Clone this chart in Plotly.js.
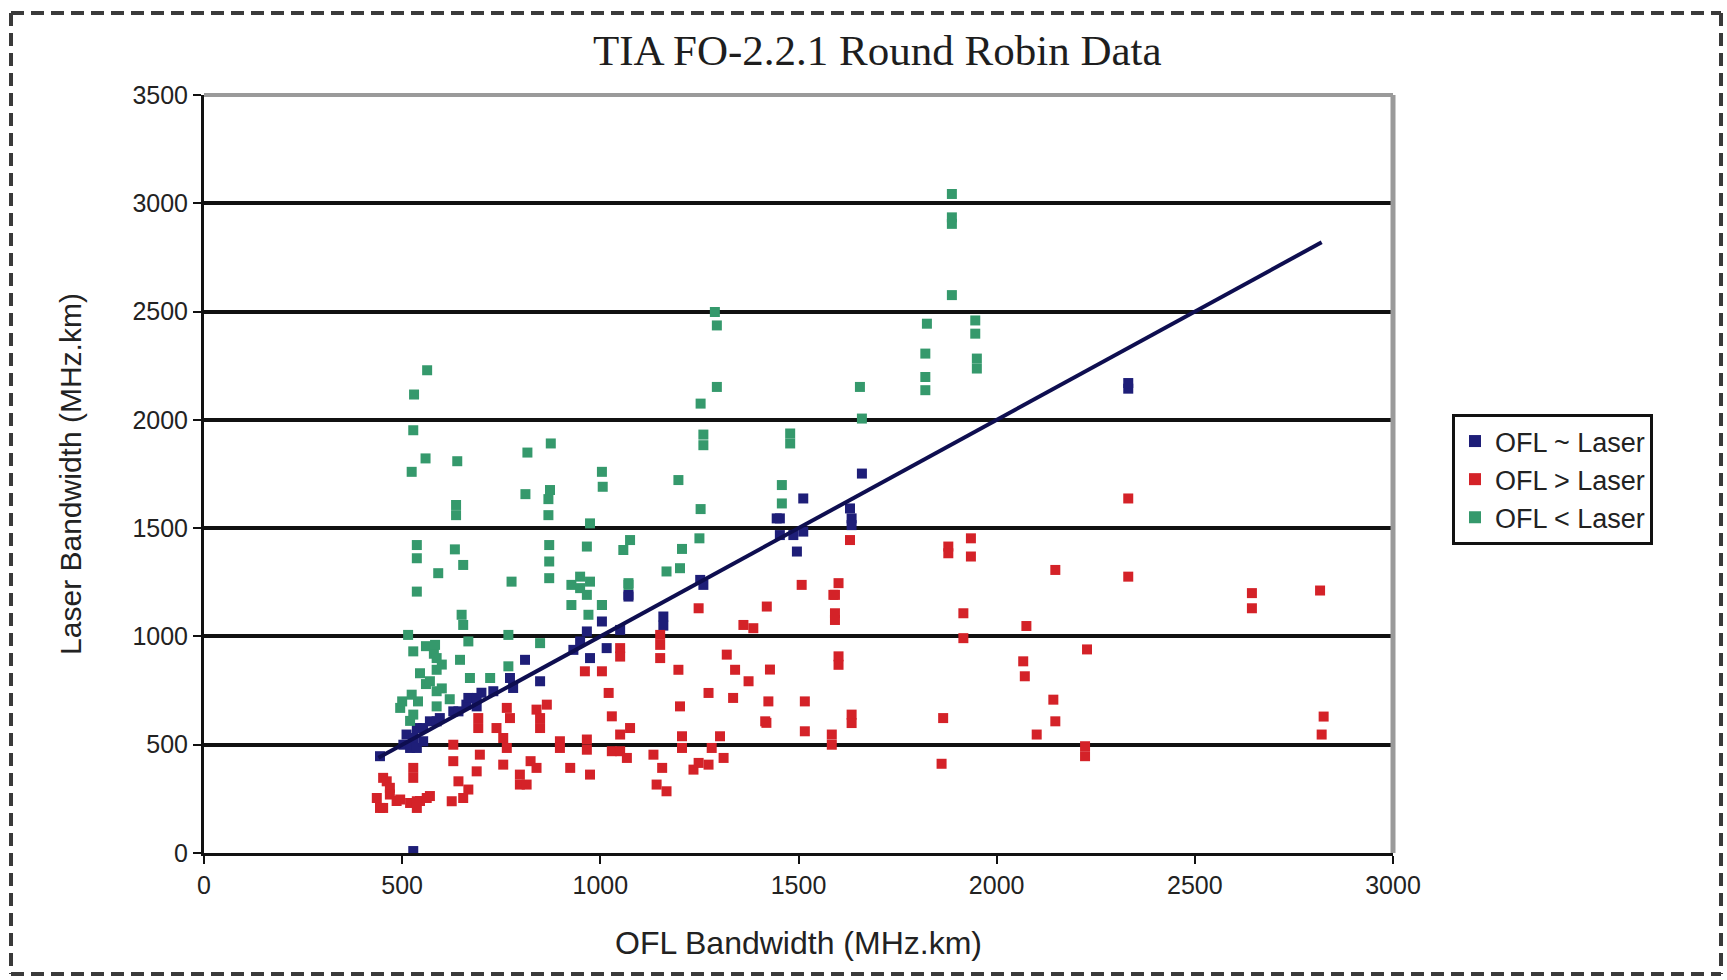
<!DOCTYPE html>
<html>
<head>
<meta charset="utf-8">
<script src="https://cdn.plot.ly/plotly-3.0.1.min.js"></script>
<style>
  html, body { margin: 0; padding: 0; background: #ffffff; }
  #chart { width: 1727px; height: 980px; }
</style>
</head>
<body>
<div id="chart"></div>
<script>
// ---- data ----
const seriesNames = ["OFL ~ Laser", "OFL > Laser", "OFL < Laser"];

// OFL ~ Laser (blue)
const approxX = [444, 503, 511, 520, 528, 537, 537, 553, 553, 570, 587, 595, 629, 642, 662, 667, 688, 688, 700, 730, 772, 780, 810, 848, 932, 949, 966, 974, 1004, 1016, 1050, 1071, 1071, 1159, 1159, 1252, 1260, 1445, 1453, 1453, 1487, 1496, 1512, 1512, 1630, 1634, 1634, 1660, 2332, 2332, 528];
const approxY = [447, 500, 547, 485, 531, 485, 577, 577, 516, 608, 608, 623, 654, 654, 685, 716, 677, 716, 740, 747, 808, 762, 892, 793, 938, 977, 1023, 900, 1069, 946, 1030, 1192, 1184, 1092, 1050, 1261, 1238, 1545, 1545, 1468, 1468, 1392, 1637, 1484, 1591, 1545, 1514, 1752, 2144, 2170, 9];

// OFL > Laser (red)
const greaterX = [436, 444, 452, 452, 461, 469, 469, 486, 495, 520, 528, 528, 537, 537, 545, 562, 570,
  625, 629, 629, 642, 654, 667, 688, 692, 692, 696, 738, 755, 755, 764, 764, 772, 797, 797, 814, 824, 839, 839, 848, 848, 865,
  898, 898, 924, 961, 966, 966, 974, 1004, 1021, 1029, 1029, 1050, 1050, 1050, 1050, 1067, 1075,
  1134, 1142, 1151, 1151, 1151, 1156, 1167, 1197, 1201, 1206, 1206, 1235, 1248, 1248, 1273, 1273, 1281, 1302, 1311, 1319, 1335, 1340, 1361, 1374, 1386,
  1416, 1419, 1420, 1424, 1428, 1508, 1516, 1516, 1584, 1584, 1588, 1592, 1592, 1592, 1601, 1601, 1601, 1630, 1634, 1634,
  1861, 1865, 1878, 1878, 1916, 1916, 1935, 1935, 2067, 2071, 2075, 2101, 2143, 2148, 2148, 2223, 2223, 2228, 2332, 2332, 2644, 2644, 2816, 2820, 2825];
const greaterY = [254, 208, 347, 208, 331, 301, 270, 240, 247, 231, 393, 347, 239, 208, 240, 254, 263,
  239, 500, 424, 331, 254, 293, 377, 623, 577, 454, 577, 531, 408, 670, 485, 623, 362, 316, 316, 424, 662, 393, 623, 577, 685,
  516, 485, 393, 839, 524, 477, 362, 839, 739, 631, 470, 946, 907, 547, 470, 439, 577,
  454, 316, 1007, 961, 900, 393, 285, 846, 677, 539, 485, 385, 416, 1130, 739, 408, 485, 539, 439, 916, 716, 846, 1053, 793, 1038,
  608, 601, 1138, 700, 847, 1238, 700, 562, 547, 500, 1192, 1192, 1107, 1076, 1246, 908, 869, 1445, 639, 600,
  412, 623, 1415, 1384, 1107, 992, 1453, 1369, 885, 816, 1048, 547, 708, 608, 1307, 493, 447, 940, 1637, 1276, 1200, 1130, 1212, 547, 630];

// OFL < Laser (green)
const lessX = [495, 500, 515, 520, 524, 524, 528, 528, 528, 530, 537, 537, 537, 540, 545, 559, 560, 560, 563, 570, 580, 583, 587, 587, 587, 587, 591, 600, 600, 620,
  633, 636, 636, 639, 646, 650, 654, 654, 667, 671, 722, 768, 768, 776, 811, 816, 848, 869, 869, 871, 871, 871, 873, 875,
  927, 927, 949, 949, 966, 966, 970, 974, 974, 1004, 1004, 1004, 1006, 1058, 1071, 1071, 1075, 1167, 1197, 1201, 1206, 1250, 1253, 1253, 1260, 1260, 1289, 1294, 1294,
  1458, 1458, 1479, 1479, 1655, 1660, 1820, 1820, 1820, 1824, 1887, 1887, 1887, 1887, 1946, 1946, 1950, 1950];
const lessY = [670, 700, 1007, 610, 1760, 731, 1952, 931, 639, 2117, 1422, 1361, 1207, 700, 830, 1822, 955, 780, 2229, 793, 920, 961, 900, 846, 747, 677, 1292, 870, 760, 710,
  1402, 1607, 1560, 1809, 892, 1100, 1330, 1053, 977, 808, 808, 1007, 862, 1253, 1657, 1849, 969, 1634, 1560, 1422, 1346, 1269, 1676, 1891,
  1238, 1145, 1276, 1223, 1415, 1192, 1100, 1522, 1253, 1760, 1145, 1145, 1691, 1399, 1246, 1238, 1445, 1300, 1722, 1315, 1404, 1453, 2075, 1588, 1932, 1883, 2498, 2436, 2152,
  1699, 1614, 1937, 1891, 2152, 2006, 2306, 2198, 2137, 2444, 3043, 2935, 2905, 2576, 2459, 2398, 2283, 2237];

// equality trend line (y = x)
const lineX = [440, 2820];
const lineY = [440, 2820];

const xTicks = [0, 500, 1000, 1500, 2000, 2500, 3000];
const yTicks = [0, 500, 1000, 1500, 2000, 2500, 3000, 3500];

// ---- chart ----
const markerBase = { size: 10, line: { width: 0 } };
const traces = [
  { type: 'scatter', mode: 'markers', name: seriesNames[0], x: approxX, y: approxY,
    marker: Object.assign({}, markerBase, { color: '#1e1e78', symbol: 'square' }) },
  { type: 'scatter', mode: 'markers', name: seriesNames[1], x: greaterX, y: greaterY,
    marker: Object.assign({}, markerBase, { color: '#d42228', symbol: 'square' }) },
  { type: 'scatter', mode: 'markers', name: seriesNames[2], x: lessX, y: lessY,
    marker: Object.assign({}, markerBase, { color: '#35996c', symbol: 'square' }) },
  { type: 'scatter', mode: 'lines', name: 'trend', x: lineX, y: lineY, showlegend: false,
    line: { color: '#0e0e50', width: 4 } }
];

const dash = { color: '#3a3a3a', width: 4, dash: '13px,7px' };
const layout = {
  width: 1727, height: 980,
  paper_bgcolor: '#ffffff', plot_bgcolor: '#ffffff',
  margin: { l: 204, r: 334, t: 95, b: 127 },
  showlegend: true,
  title: { text: 'TIA FO-2.2.1 Round Robin Data', x: 0.508, xref: 'container', xanchor: 'center',
    y: 1 - 50 / 980, yref: 'container', yanchor: 'middle',
    font: { family: 'Liberation Serif, serif', size: 43, color: '#1e1e1e' } },
  font: { family: 'Liberation Sans, Arial, sans-serif', color: '#222' },
  xaxis: {
    range: [0, 3000], tickvals: xTicks, ticktext: xTicks.map(String),
    showgrid: false, zeroline: false,
    showline: true, linecolor: '#111', linewidth: 3,
    ticks: 'outside', ticklen: 8, tickwidth: 2, tickcolor: '#111',
    tickfont: { size: 25, color: '#222' },
    title: { text: 'OFL Bandwidth (MHz.km)', font: { size: 32, color: '#222' }, standoff: 34 }
  },
  yaxis: {
    range: [0, 3500], tickvals: yTicks, ticktext: yTicks.map(String),
    showgrid: true, gridcolor: '#111', gridwidth: 4, zeroline: false,
    showline: true, linecolor: '#111', linewidth: 3,
    ticks: 'outside', ticklen: 8, tickwidth: 2, tickcolor: '#111',
    tickfont: { size: 25, color: '#222' },
    title: { text: 'Laser Bandwidth (MHz.km)', font: { size: 30, color: '#222' }, standoff: 42 }
  },
  legend: {
    x: (1452 - 204) / 1189, xanchor: 'left', y: (853 - 414) / 758, yanchor: 'top',
    bgcolor: '#ffffff', bordercolor: '#111', borderwidth: 3,
    font: { size: 27, color: '#222' }, itemsizing: 'constant'
  },
  shapes: [
    // plot area grey border (top and right)
    { type: 'line', xref: 'paper', yref: 'paper', x0: 0, x1: 1, y0: 1, y1: 1, line: { color: '#9a9a9a', width: 4 }, layer: 'above' },
    { type: 'line', xref: 'paper', yref: 'paper', x0: 1, x1: 1, y0: 0, y1: 1, line: { color: '#9a9a9a', width: 5 }, layer: 'above' },
    // outer dashed frame
    { type: 'line', xref: 'paper', yref: 'paper', x0: (11 - 204) / 1189, x1: (1721 - 204) / 1189, y0: (853 - 13) / 758, y1: (853 - 13) / 758, line: dash },
    { type: 'line', xref: 'paper', yref: 'paper', x0: (11 - 204) / 1189, x1: (1721 - 204) / 1189, y0: (853 - 974) / 758, y1: (853 - 974) / 758, line: dash },
    { type: 'line', xref: 'paper', yref: 'paper', x0: (11 - 204) / 1189, x1: (11 - 204) / 1189, y0: (853 - 13) / 758, y1: (853 - 974) / 758, line: dash },
    { type: 'line', xref: 'paper', yref: 'paper', x0: (1721 - 204) / 1189, x1: (1721 - 204) / 1189, y0: (853 - 13) / 758, y1: (853 - 974) / 758, line: dash }
  ]
};

Plotly.newPlot('chart', traces, layout, { displayModeBar: false, staticPlot: true });
</script>
</body>
</html>
